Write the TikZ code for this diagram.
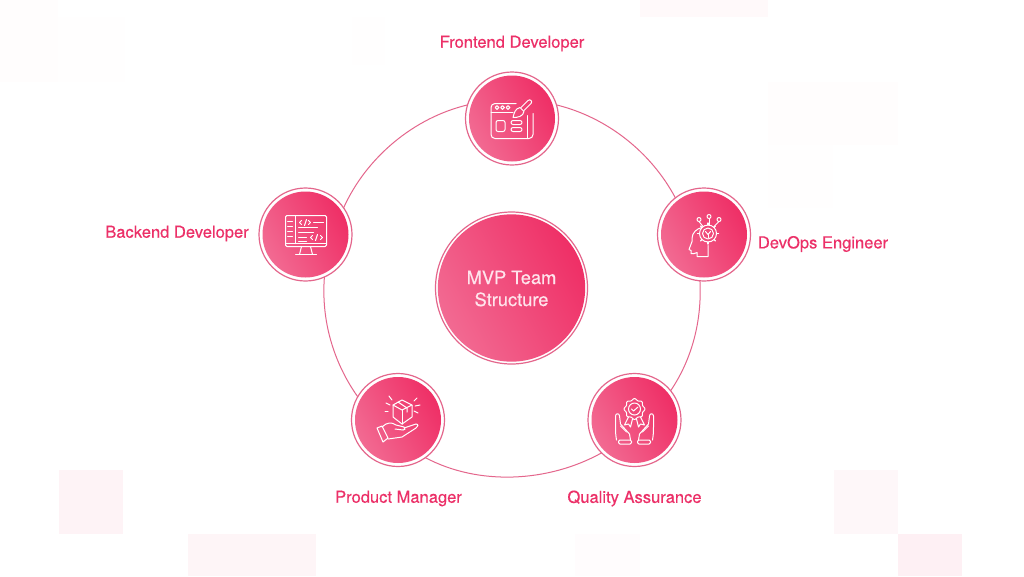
\documentclass[tikz,border=0pt]{standalone}
\usepackage{fontspec}
\setmainfont[FakeBold=0.35]{TeX Gyre Heros}
\definecolor{rosetext}{HTML}{EC3068}
\definecolor{roseline}{HTML}{E4668C}
\definecolor{rosedark}{HTML}{EF2F66}
\definecolor{roselight}{HTML}{F26A92}
\definecolor{hubtext}{HTML}{FFE4EC}
\tikzset{
    rolering/.style={circle,draw=roseline,line width=0.9pt,fill=white,minimum size=69.75pt,inner sep=0pt,outer sep=0pt},
    roledisc/.style={circle,left color=roselight,right color=rosedark,shading angle=118,minimum size=64.5pt,inner sep=0pt},
    hubring/.style={circle,draw=roseline,line width=0.9pt,fill=white,minimum size=114pt,inner sep=0pt,outer sep=0pt},
    hubdisc/.style={circle,left color=roselight,right color=rosedark,shading angle=118,minimum size=110.5pt,inner sep=0pt},
    hublabel/.style={text=hubtext,inner sep=0pt,align=center,font=\fontsize{13.7}{16.5}\selectfont},
    rolelabel/.style={text=rosetext,inner sep=0pt,font=\fontsize{12.4}{15}\selectfont},
    ringarc/.style={draw=roseline,line width=0.75pt,looseness=0.88},
    iconline/.style={draw=white,line width=0.75pt,line join=round,line cap=round},
    tile/.style={draw=none}
}
\begin{document}
\begin{tikzpicture}[x=0.75pt,y=-0.75pt]
    \useasboundingbox (0,0) rectangle (1024,576);
    % background tiles
    \fill[tile,color=white] (0,0) rectangle (1024,576);
    \fill[tile,color=rosedark!6] (59,470) rectangle (123,534);
    \fill[tile,color=rosedark!5] (188,534) rectangle (316,576);
    \fill[tile,color=rosedark!4] (834,470) rectangle (898,534);
    \fill[tile,color=rosedark!7] (898,534) rectangle (962,576);
    \fill[tile,color=rosedark!1.5] (575,534) rectangle (640,576);
    \fill[tile,color=rosedark!3] (640,0) rectangle (768,17);
    \fill[tile,color=rosedark!1] (768,82) rectangle (898,145);
    \fill[tile,color=rosedark!0.7] (768,145) rectangle (833,208);
    \fill[tile,color=rosedark!1] (0,0) rectangle (58,82);
    \fill[tile,color=rosedark!0.7] (58,17) rectangle (125,82);
    \fill[tile,color=rosedark!0.5] (352,17) rectangle (385,65);
    % hub
    \node[hubring] (hubout) at (511.5,288) {};
    \node[hubdisc] (hub) at (hubout) {};
    \node[hublabel] (hubtitle) at (511.5,288.5) {MVP Team\\Structure};
    % roles
    \node[rolering] (frontout) at (512,118.5) {};
    \node[roledisc] (front) at (frontout) {};
    \node[rolering] (devopsout) at (704,234.5) {};
    \node[roledisc] (devops) at (devopsout) {};
    \node[rolering] (qualityout) at (634.5,420) {};
    \node[roledisc] (quality) at (qualityout) {};
    \node[rolering] (productout) at (398,420) {};
    \node[roledisc] (product) at (productout) {};
    \node[rolering] (backout) at (305.5,234.5) {};
    \node[roledisc] (back) at (backout) {};
    % ring pieces
    \draw[ringarc] (frontout.17) to[out=-13.8,in=118] (devopsout.128);
    \draw[ringarc] (devopsout.265) to[out=-87,in=56] (qualityout.39);
    \draw[ringarc] (qualityout.225) to[out=-151,in=-28] (productout.306);
    \draw[ringarc] (productout.150) to[out=125.3,in=-94.5] (backout.294);
    \draw[ringarc] (backout.35) to[out=65.6,in=193.5] (frontout.163);
    % labels
    \node[rolelabel] (frontlabel) at (512,43.5) {Frontend Developer};
    \node[rolelabel] (devopslabel) at (823,244) {DevOps Engineer};
    \node[rolelabel] (qualitylabel) at (634.5,498.5) {Quality Assurance};
    \node[rolelabel] (productlabel) at (398.5,498.5) {Product Manager};
    \node[rolelabel] (backlabel) at (177,233.5) {Backend Developer};
    % frontend icon
    \begin{scope}[shift={(512,118.5)},iconline]
        \draw[rounded corners=3] (4,-15) -- (-21,-15) -- (-21,20) -- (21,20) -- (21,-5);
        \draw (-21,-6) -- (1,-6);
        \draw (15,-3) -- (15,20);
        \draw (-15,-11) circle (1.9);
        \draw (-9.5,-11) circle (1.9);
        \draw (-4,-11) circle (1.9);
        \draw[rounded corners=1.5] (-16,2) rectangle (-7,13);
        \draw[rounded corners=1.5] (-1,2) rectangle (10,6);
        \draw[rounded corners=1.5] (-1,9) rectangle (10,13);
        \draw (1,-1) .. controls (2,-5) and (3,-10) .. (8,-11) -- (12,-7) .. controls (11,-2) and (6,-1) .. (1,-1);
        \draw (9,-11) -- (16,-18) .. controls (18,-20) and (21,-17) .. (19,-15) -- (12,-8);
    \end{scope}
    % devops icon
    \begin{scope}[shift={(704,234.5)},iconline]
        \draw (-2,-7) .. controls (-7,-6) and (-12,-2) .. (-12,4) -- (-12,7) -- (-15,15) -- (-13,16) -- (-13,19) .. controls (-12,20) and (-9,19) .. (-7,18) -- (-7,22) -- (4,22) -- (4,11);
        \draw (4,-1) circle (5.5);
        \draw (4,-1) circle (8.5);
        \foreach \a in {0,45,...,315} \draw[line width=1pt] (4,-1) ++(\a:8.5) -- ++(\a:2);
        \draw (1.5,-3) -- (4,0) -- (6.5,-3);
        \draw (4,0) -- (4,3);
        \draw (-5,-15) circle (2);
        \draw (5,-18) circle (2);
        \draw (15,-15) circle (2);
        \draw (-5,-13) -- (-1,-8);
        \draw (5,-16) -- (5,-10);
        \draw (15,-13) -- (10,-8);
    \end{scope}
    % quality icon
    \begin{scope}[shift={(634.5,420)},iconline]
        \draw (0,-11) circle (6);
        \draw[shift={(0,-11)}] plot[domain=0:360,samples=73,smooth] (\x:{9.6+0.8*cos(8*\x)});
        \draw (-3,-11) -- (-1,-9) -- (3.5,-13);
        \draw (-6,-3) -- (-10,5) -- (-6,4) -- (-4,7) -- (-2,-1);
        \draw (6,-3) -- (10,5) -- (6,4) -- (4,7) -- (2,-1);
        \draw (-18,20) .. controls (-19,14) and (-19,11) .. (-19,7) -- (-19,-4) .. controls (-19,-7) and (-15,-7) .. (-15,-4) -- (-14,4) -- (-5,14) -- (-4,20);
        \draw (-14,6) -- (-8,12);
        \draw[rounded corners=1] (-16,20) rectangle (-3,24);
        \draw (18,20) .. controls (19,14) and (19,11) .. (19,7) -- (19,-4) .. controls (19,-7) and (15,-7) .. (15,-4) -- (14,4) -- (5,14) -- (4,20);
        \draw (14,6) -- (8,12);
        \draw[rounded corners=1] (16,20) rectangle (3,24);
    \end{scope}
    % product icon
    \begin{scope}[shift={(398,420)},iconline]
        \draw (4,-20) -- (-5,-15) -- (4,-10) -- (14,-15) -- cycle;
        \draw (-5,-15) -- (-5,-3) -- (4,4) -- (14,-3) -- (14,-15);
        \draw (4,-10) -- (4,4);
        \draw (0,-18) -- (9,-12) -- (9,-8);
        \draw (-8,-15) -- (-12,-17);
        \draw (-6,-20) -- (-9,-24);
        \draw (-10,-9) -- (-13,-9);
        \draw (16,-19) -- (19,-22);
        \draw (17,-14) -- (22,-15);
        \draw (16,-9) -- (20,-7);
        \draw (-21,8) -- (-16,6) -- (-10,18) -- (-15,22) -- cycle;
        \draw (-16,7) .. controls (-11,2) and (-6,2) .. (-2,5) -- (6,7) .. controls (8,8) and (7,11) .. (5,10) -- (-3,9);
        \draw (6,8) -- (18,4) .. controls (21,4) and (20,7) .. (18,8) -- (4,17) -- (-10,19);
    \end{scope}
    % backend icon
    \begin{scope}[shift={(305.5,234.5)},iconline]
        \draw[rounded corners=1] (-20,-19) rectangle (21,12);
        \draw (-20,9) -- (21,9);
        \draw (-10,-19) -- (-10,9);
        \draw (-18,-13) -- (-13,-13);
        \draw (-18,-8) -- (-13,-8);
        \draw (-18,-3) -- (-13,-3);
        \draw (-18,2) -- (-13,2);
        \draw (-4,-14) -- (-6,-12) -- (-4,-10);
        \draw (-1,-9) -- (1,-15);
        \draw (3,-14) -- (5,-12) -- (3,-10);
        \draw (8,-12) -- (18,-12);
        \draw (-7,-7) -- (12,-7);
        \draw (-7,-2) -- (8,-2);
        \draw (-7,3) -- (1,3);
        \draw (-7,7) -- (1,7);
        \draw (7,1) -- (5,3) -- (7,5);
        \draw (10,6) -- (12,0);
        \draw (15,1) -- (17,3) -- (15,5);
        \draw (-4,12) -- (-6,20);
        \draw (5,12) -- (7,20);
        \draw (-10,20) -- (11,20);
    \end{scope}
\end{tikzpicture}
\end{document}
